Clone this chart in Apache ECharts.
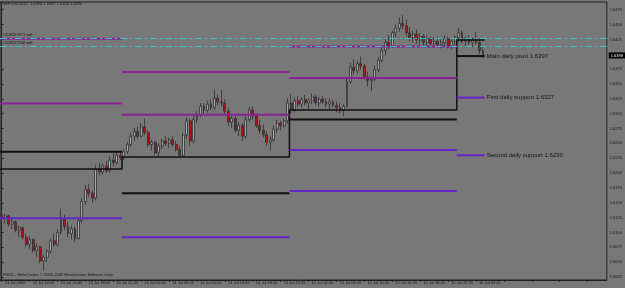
<!DOCTYPE html>
<html>
<head>
<meta charset="utf-8">
<script src="https://cdn.jsdelivr.net/npm/echarts@6/dist/echarts.min.js"></script>
<style>
  html, body { margin: 0; padding: 0; background: #787878; }
  #main { width: 625px; height: 288px; }
</style>
</head>
<body>
<div id="main"></div>
<script>
var tickLabels = ['13 Jul 2009', '13 Jul 10:45', '13 Jul 14:45', '13 Jul 18:45', '13 Jul 22:45',
  '14 Jul 02:45', '14 Jul 06:45', '14 Jul 10:45', '14 Jul 14:45', '14 Jul 18:45', '14 Jul 22:45',
  '15 Jul 02:45', '15 Jul 06:45', '15 Jul 10:45', '15 Jul 14:45', '15 Jul 18:45', '15 Jul 22:45',
  '16 Jul 02:45'];
var barsPerLabel = 8;
var barSlots = 174;

// [open, close, low, high], 30 min bars from 13 Jul 06:45
var ohlc = [
  // 13 Jul
  [1.6130,1.6124,1.6118,1.6138],[1.6124,1.6128,1.6115,1.6132],[1.6128,1.6114,1.6110,1.6130],
  [1.6114,1.6118,1.6106,1.6122],[1.6118,1.6104,1.6100,1.6120],[1.6104,1.6108,1.6092,1.6112],
  [1.6108,1.6092,1.6088,1.6110],[1.6092,1.6080,1.6076,1.6098],[1.6080,1.6088,1.6072,1.6094],
  [1.6088,1.6070,1.6066,1.6090],[1.6070,1.6076,1.6058,1.6082],[1.6076,1.6052,1.6048,1.6078],
  [1.6052,1.6058,1.6036,1.6062],[1.6058,1.6068,1.6050,1.6072],[1.6068,1.6086,1.6064,1.6090],
  [1.6086,1.6080,1.6076,1.6098],[1.6080,1.6100,1.6076,1.6106],[1.6100,1.6122,1.6096,1.6140],
  [1.6122,1.6110,1.6104,1.6130],[1.6110,1.6098,1.6092,1.6118],[1.6098,1.6106,1.6088,1.6112],
  [1.6106,1.6090,1.6084,1.6110],[1.6090,1.6120,1.6088,1.6124],[1.6120,1.6152,1.6116,1.6158],
  [1.6152,1.6172,1.6146,1.6180],[1.6172,1.6166,1.6160,1.6182],[1.6166,1.6158,1.6150,1.6170],
  [1.6158,1.6206,1.6154,1.6214],[1.6206,1.6202,1.6196,1.6218],[1.6202,1.6212,1.6198,1.6216],
  [1.6212,1.6204,1.6200,1.6220],[1.6204,1.6222,1.6200,1.6228],[1.6222,1.6218,1.6212,1.6234],
  [1.6218,1.6230,1.6214,1.6236],[1.6230,1.6226,1.6222,1.6238],
  // 14 Jul
  [1.6226,1.6236,1.6222,1.6240],[1.6236,1.6248,1.6232,1.6252],[1.6248,1.6262,1.6244,1.6268],
  [1.6262,1.6270,1.6254,1.6276],[1.6270,1.6262,1.6258,1.6278],[1.6262,1.6278,1.6260,1.6284],
  [1.6278,1.6268,1.6264,1.6292],[1.6268,1.6248,1.6244,1.6272],[1.6248,1.6252,1.6238,1.6256],
  [1.6252,1.6234,1.6230,1.6254],[1.6234,1.6246,1.6228,1.6250],[1.6246,1.6254,1.6240,1.6258],
  [1.6254,1.6250,1.6246,1.6262],[1.6250,1.6256,1.6242,1.6260],[1.6256,1.6248,1.6244,1.6262],
  [1.6248,1.6240,1.6236,1.6254],[1.6240,1.6230,1.6226,1.6246],[1.6230,1.6264,1.6228,1.6268],
  [1.6264,1.6288,1.6258,1.6294],[1.6288,1.6254,1.6246,1.6292],[1.6254,1.6290,1.6250,1.6296],
  [1.6290,1.6298,1.6284,1.6304],[1.6298,1.6312,1.6294,1.6318],[1.6312,1.6306,1.6300,1.6318],
  [1.6306,1.6316,1.6302,1.6322],[1.6316,1.6310,1.6306,1.6324],[1.6310,1.6326,1.6306,1.6340],
  [1.6326,1.6320,1.6314,1.6332],[1.6320,1.6318,1.6312,1.6340],[1.6318,1.6304,1.6300,1.6324],
  [1.6304,1.6286,1.6280,1.6310],[1.6286,1.6292,1.6276,1.6296],[1.6292,1.6272,1.6268,1.6296],
  [1.6272,1.6280,1.6262,1.6286],[1.6280,1.6262,1.6254,1.6284],[1.6262,1.6290,1.6258,1.6296],
  [1.6290,1.6306,1.6286,1.6312],[1.6306,1.6296,1.6290,1.6312],[1.6296,1.6280,1.6276,1.6300],
  [1.6280,1.6272,1.6266,1.6290],[1.6272,1.6264,1.6260,1.6282],[1.6264,1.6252,1.6246,1.6270],
  [1.6252,1.6256,1.6238,1.6262],[1.6256,1.6274,1.6252,1.6280],[1.6274,1.6284,1.6268,1.6290],
  [1.6284,1.6280,1.6272,1.6288],[1.6280,1.6288,1.6276,1.6292],[1.6288,1.6318,1.6284,1.6326],
  // 15 Jul
  [1.6318,1.6306,1.6300,1.6334],[1.6306,1.6322,1.6302,1.6328],[1.6322,1.6316,1.6312,1.6330],
  [1.6316,1.6324,1.6310,1.6328],[1.6324,1.6318,1.6314,1.6332],[1.6318,1.6322,1.6308,1.6326],
  [1.6322,1.6328,1.6316,1.6334],[1.6328,1.6318,1.6314,1.6332],[1.6318,1.6324,1.6312,1.6328],
  [1.6324,1.6320,1.6316,1.6330],[1.6320,1.6316,1.6310,1.6326],[1.6316,1.6320,1.6306,1.6326],
  [1.6320,1.6314,1.6310,1.6324],[1.6314,1.6310,1.6302,1.6320],[1.6310,1.6306,1.6300,1.6318],
  [1.6306,1.6312,1.6296,1.6316],[1.6312,1.6354,1.6310,1.6360],[1.6354,1.6378,1.6350,1.6386],
  [1.6378,1.6372,1.6366,1.6392],[1.6372,1.6384,1.6368,1.6390],[1.6384,1.6380,1.6374,1.6396],
  [1.6380,1.6362,1.6358,1.6384],[1.6362,1.6356,1.6346,1.6370],[1.6356,1.6358,1.6338,1.6362],
  [1.6358,1.6374,1.6354,1.6380],[1.6374,1.6390,1.6370,1.6396],[1.6390,1.6406,1.6386,1.6412],
  [1.6406,1.6420,1.6398,1.6426],[1.6420,1.6414,1.6408,1.6432],[1.6414,1.6436,1.6410,1.6440],
  [1.6436,1.6444,1.6428,1.6450],[1.6444,1.6452,1.6438,1.6462],[1.6452,1.6448,1.6442,1.6466],
  [1.6448,1.6436,1.6430,1.6458],[1.6436,1.6428,1.6422,1.6446],[1.6428,1.6434,1.6420,1.6440],
  [1.6434,1.6424,1.6418,1.6442],[1.6424,1.6430,1.6416,1.6436],[1.6430,1.6420,1.6414,1.6434],
  [1.6420,1.6426,1.6412,1.6432],[1.6426,1.6418,1.6414,1.6430],[1.6418,1.6422,1.6410,1.6428],
  [1.6422,1.6416,1.6412,1.6430],[1.6416,1.6420,1.6410,1.6426],[1.6420,1.6426,1.6414,1.6432],
  [1.6426,1.6414,1.6410,1.6430],[1.6414,1.6422,1.6408,1.6428],[1.6422,1.6428,1.6416,1.6432],
  // 16 Jul
  [1.6428,1.6436,1.6420,1.6444],[1.6436,1.6422,1.6418,1.6440],[1.6422,1.6426,1.6412,1.6430],
  [1.6426,1.6420,1.6416,1.6432],[1.6420,1.6424,1.6412,1.6428],[1.6424,1.6420,1.6416,1.6438],
  [1.6420,1.6406,1.6400,1.6426],[1.6406,1.6398,1.6394,1.6412]
];

// daily levels, one entry per day (bar-index span of each day)
var dayStart = [-0.5, 34.5, 82.5, 130.5];
var dayEnd = [34.5, 82.5, 130.5, 138.5];
var dayOpen = [1.6207, 1.6227, 1.6306, 1.6424];
var pivot = [1.6236, 1.6166, 1.6290, 1.6397];
var r1 = [1.6317, 1.6298, 1.6360, null];
var r2 = [1.6426, 1.6370, 1.6413, null];
var s1 = [1.6124, 1.6092, 1.6239, 1.6327];
var s2 = [null, null, 1.6170, 1.6230];

var orderNames = ['#208227971 sell', '#208227948 sell'];
var orderPrices = [1.6427, 1.6414];
var priceTicks = [1.6025, 1.6050, 1.6075, 1.6100, 1.6125, 1.6150, 1.6175, 1.6200, 1.6225,
  1.6250, 1.6275, 1.6300, 1.6325, 1.6350, 1.6375, 1.6425, 1.6450, 1.6475];
var lastPrice = 1.6398;

var chartDom = document.getElementById('main');
var myChart = echarts.init(chartDom);
var option;

var categories = [];
for (var i = 0; i < barSlots; i++) categories.push(String(i));

var labelStyle = { color: '#141414', fontSize: 6, fontFamily: 'Liberation Sans' };
var smallText = { color: '#141414', fontSize: 4, fontFamily: 'Liberation Sans' };

function levelSeries(values, color, names) {
  var out = [];
  values.forEach(function (v, d) {
    if (v == null) return;
    var s = {
      type: 'line',
      xAxisIndex: 1,
      yAxisIndex: 0,
      symbol: 'none',
      silent: true,
      lineStyle: { color: color, width: 2 },
      data: [[dayStart[d], v], [dayEnd[d], v]]
    };
    if (names && names[d]) {
      s.endLabel = Object.assign({ show: true, distance: 2, formatter: names[d] + ' ' + v.toFixed(4) }, labelStyle);
    }
    out.push(s);
  });
  return out;
}

// daily open drawn as a step line
var openStep = [];
dayOpen.forEach(function (v, d) {
  openStep.push([dayStart[d], v]);
  openStep.push([dayEnd[d], v]);
});

var orderMarks = orderPrices.map(function (p, k) {
  return {
    yAxis: p,
    lineStyle: { color: '#36c6c6', width: 1, type: [7, 3, 2, 3] },
    label: Object.assign({
      show: true, position: 'insideStartTop', distance: [3, 1], formatter: orderNames[k]
    }, smallText)
  };
});
var priceMark = {
  yAxis: lastPrice,
  lineStyle: { color: 'rgba(0,0,0,0)', width: 0 },
  label: {
    show: true, position: 'end', distance: 2,
    formatter: lastPrice.toFixed(4), color: '#ffffff', backgroundColor: '#000000',
    padding: [1, 2], fontSize: 4, fontFamily: 'Liberation Sans'
  }
};

var resColor = '#8a2196';
var supColor = '#6326c4';

var series = [
  {
    type: 'candlestick',
    data: ohlc,
    barWidth: 2.4,
    itemStyle: {
      color: '#a8a8a8',
      color0: '#b01212',
      borderColor: '#303030',
      borderColor0: '#303030',
      borderWidth: 0.8
    }
  },
  {
    type: 'line',
    xAxisIndex: 1,
    yAxisIndex: 0,
    symbol: 'none',
    silent: true,
    lineStyle: { color: '#101010', width: 1.5 },
    data: openStep,
    markLine: {
      symbol: 'none',
      silent: true,
      animation: false,
      precision: 4,
      data: orderMarks.concat([priceMark])
    }
  }
]
  .concat(levelSeries(r2, resColor))
  .concat(levelSeries(r1, resColor))
  .concat(levelSeries(pivot, '#101010', [null, null, null, 'Main daily pivot']))
  .concat(levelSeries(s1, supColor, [null, null, null, 'First daily support']))
  .concat(levelSeries(s2, supColor, [null, null, null, 'Second daily support']));

option = {
  animation: false,
  backgroundColor: '#787878',
  title: [
    {
      text: 'GBPUSD,M15  1.6398 1.6397 1.6396 1.6396',
      left: 2, top: 2, padding: 0,
      textStyle: Object.assign({ fontWeight: 'normal' }, smallText)
    },
    {
      text: 'FXDD - MetaTrader, \u00a9 2001-2009 MetaQuotes Software Corp.',
      left: 3, top: 273, padding: 0,
      textStyle: Object.assign({ fontWeight: 'normal' }, smallText)
    }
  ],
  grid: {
    left: -2,
    width: 609,
    top: 2,
    bottom: 8,
    show: true,
    backgroundColor: '#787878',
    borderColor: '#202020',
    borderWidth: 1
  },
  xAxis: [
    {
      type: 'category',
      data: categories,
      boundaryGap: true,
      axisLine: { show: true, lineStyle: { color: '#202020' } },
      axisTick: {
        show: true, length: 2, alignWithLabel: true,
        interval: function (idx) { return idx % barsPerLabel === 0; },
        lineStyle: { color: '#202020' }
      },
      axisLabel: Object.assign({
        show: true,
        interval: function (idx) { return idx % barsPerLabel === 0; },
        formatter: function (v, idx) { return tickLabels[idx / barsPerLabel] || ''; },
        align: 'left',
        margin: 1,
        padding: [0, 0, 0, 3]
      }, smallText),
      splitLine: { show: false }
    },
    {
      type: 'value',
      min: -0.5,
      max: barSlots - 0.5,
      show: false
    }
  ],
  yAxis: {
    type: 'value',
    position: 'right',
    min: 1.6020,
    max: 1.6488,
    scale: true,
    axisLine: { show: true, lineStyle: { color: '#202020' } },
    axisTick: { show: true, length: 2, customValues: priceTicks, lineStyle: { color: '#202020' } },
    axisLabel: Object.assign({
      customValues: priceTicks,
      formatter: function (v) { return v.toFixed(4); },
      margin: 3
    }, smallText),
    splitLine: { show: false }
  },
  series: series
};

option && myChart.setOption(option);
</script>
</body>
</html>
